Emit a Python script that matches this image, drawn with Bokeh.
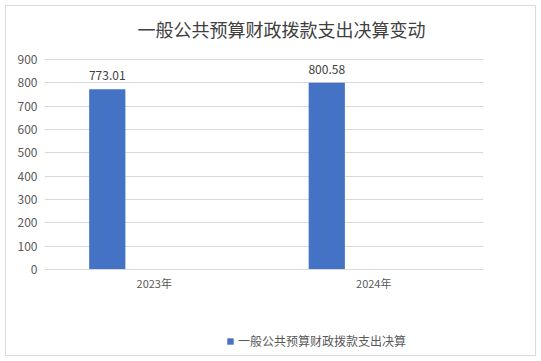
from bokeh.plotting import figure
from bokeh.models import ColumnDataSource, LabelSet, Label, Legend, LegendItem, FactorRange, FixedTicker, Range1d, CategoricalAxis
from bokeh.transform import dodge
from bokeh.embed import file_html
from bokeh.resources import INLINE
from bokeh.core.properties import value

years = ["2023年", "2024年"]
amounts = [773.01, 800.58]
labels = ["773.01", "800.58"]
y_ticks = [0, 100, 200, 300, 400, 500, 600, 700, 800, 900]
series_name = "一般公共预算财政拨款支出决算"
title_text = "一般公共预算财政拨款支出决算变动"

W, H = 541, 361
# plot-area pixel box (axis 0 line at y=269, 900 line at y=59); frame extended to hold title/legend
FL, FR = 44, 483
Y0_PX, Y900_PX = 269, 59
FTOP, FBOT = 4, 356
px_per_unit = (Y0_PX - Y900_PX) / 900.0
y_start = -(FBOT - Y0_PX) / px_per_unit
y_end = 900 + (Y900_PX - FTOP) / px_per_unit

src = ColumnDataSource(dict(year=years, amount=amounts, label=labels))

p = figure(width=W, height=H, x_range=FactorRange(*years), y_range=Range1d(y_start, y_end),
           output_backend="svg", toolbar_location=None, x_axis_location=None,
           min_border_left=FL, min_border_right=W - FR,
           min_border_top=FTOP, min_border_bottom=H - FBOT)
p.outline_line_color = None
p.background_fill_color = None
p.border_fill_color = None
p.styles = {"background": "white",
            "box-shadow": "inset 0 0 0 5px white, inset 0 0 0 6px #d9d9d9"}

CJK = "Noto Sans CJK SC"

r = p.vbar(x=dodge("year", -0.214, range=p.x_range), top="amount", width=0.165,
           source=src, fill_color="#4472C4", line_color=None)

lbl = LabelSet(x=dodge("year", -0.214, range=p.x_range), y="amount", text="label",
               source=src, text_align="center", text_baseline="bottom", y_offset=9,
               text_font=value(CJK), text_font_size=value("12px"), text_color="#404040")
p.add_layout(lbl)

# y axis
p.yaxis.ticker = FixedTicker(ticks=y_ticks)
p.yaxis.axis_line_color = None
p.yaxis.major_tick_line_color = None
p.yaxis.minor_tick_line_color = None
p.yaxis.major_tick_out = 0
p.yaxis.major_label_text_font = CJK
p.yaxis.major_label_text_font_size = "12px"
p.yaxis.major_label_text_color = "#595959"
p.yaxis.major_label_standoff = 7

# x axis at y = 0
xa = CategoricalAxis(fixed_location=0)
xa.axis_line_color = "#d9d9d9"
xa.major_tick_line_color = None
xa.minor_tick_line_color = None
xa.major_tick_out = 0
xa.major_label_text_font = CJK
xa.major_label_text_font_size = "11px"
xa.major_label_text_color = "#595959"
xa.major_label_standoff = 5
p.add_layout(xa, "below")

p.xgrid.grid_line_color = None
p.ygrid.grid_line_color = "#d9d9d9"
p.ygrid.ticker = FixedTicker(ticks=y_ticks)

# title
t = Label(x=281 - FL, y=FBOT - 28, x_units="screen", y_units="screen",
          text=title_text, text_align="center", text_baseline="middle",
          text_font=CJK, text_font_size="18px", text_color="#404040")
p.add_layout(t)

# legend
leg = Legend(items=[LegendItem(label=series_name, renderers=[r])],
             location=(226 - FL, FBOT - 349), orientation="horizontal",
             glyph_width=8, glyph_height=8, label_height=16, label_standoff=4,
             padding=0, margin=0, border_line_color=None, background_fill_alpha=0,
             label_text_font=CJK, label_text_font_size="12px", label_text_color="#595959")
p.add_layout(leg, "center")

open("out.html", "w").write(file_html(p, INLINE))
